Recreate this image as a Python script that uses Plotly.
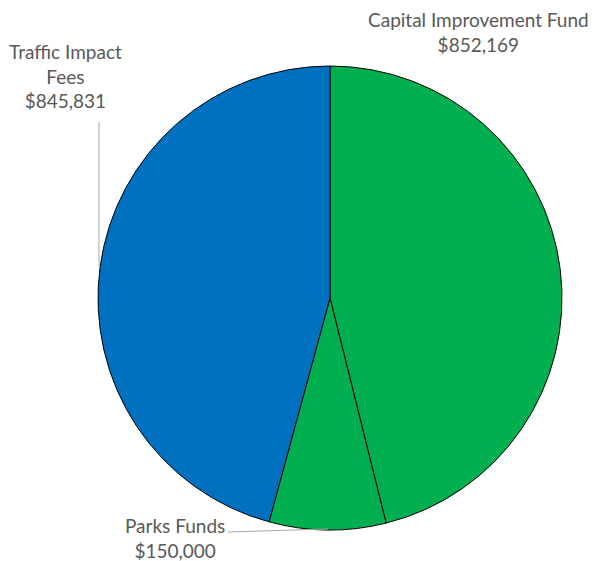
import plotly.graph_objects as go

# funding sources
sources = ['Capital Improvement Fund', 'Parks Funds', 'Traffic Impact Fees']
amounts = [852169, 150000, 845831]
colors = ['#00B050', '#00B050', '#0070C0']

W, H = 603, 561
OFF = 8  # page body margin

def px_x(x):
    return (x - OFF) / W

def px_y(y):
    return 1 - (y - OFF) / H

fig = go.Figure()
fig.add_trace(go.Pie(labels=sources, values=amounts, sort=False,
                     direction='clockwise', rotation=0,
                     marker=dict(colors=colors, line=dict(color='black', width=1)),
                     textinfo='none', hoverinfo='label+value',
                     domain=dict(x=[px_x(98), px_x(562)], y=[px_y(530), px_y(66)]),
                     showlegend=False))

# label positions (pixels)
label_pos = [(478, 32), (175, 538), (65, 76)]
label_text = ['Capital Improvement Fund<br>$852,169',
              'Parks Funds<br>$150,000',
              'Traffic Impact<br>Fees<br>$845,831']
for (x, y), t in zip(label_pos, label_text):
    fig.add_annotation(x=px_x(x), y=px_y(y), xref='paper', yref='paper',
                       text=t, showarrow=False, xanchor='center', yanchor='middle',
                       font=dict(size=19, color='#595959'))

# leader lines
fig.add_shape(type='line', xref='paper', yref='paper',
              x0=px_x(99), y0=px_y(122), x1=px_x(99), y1=px_y(266),
              line=dict(color='#A6A6A6', width=1))
fig.add_shape(type='line', xref='paper', yref='paper',
              x0=px_x(228), y0=px_y(532), x1=px_x(328), y1=px_y(529),
              line=dict(color='#A6A6A6', width=1))

fig.update_layout(width=W, height=H, margin=dict(l=0, r=0, t=0, b=0),
                  paper_bgcolor='white', plot_bgcolor='white',
                  font=dict(family='Lato, Open Sans, sans-serif', color='#595959'))

fig.write_html("out.html")
